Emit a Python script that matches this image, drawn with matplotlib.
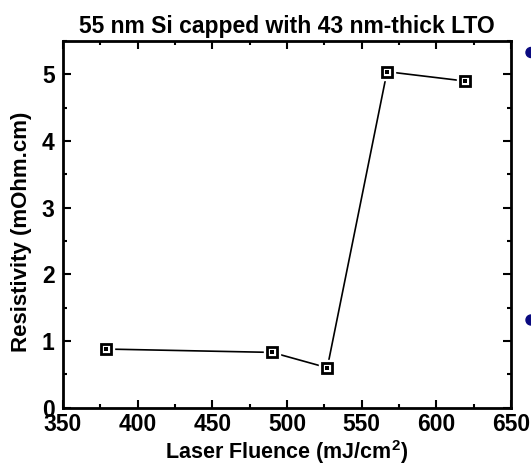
import matplotlib
matplotlib.use("Agg")
import matplotlib.pyplot as plt
from matplotlib.patches import Ellipse
from matplotlib.ticker import MultipleLocator

fluence = [379, 490, 527, 567, 619]
resistivity = [0.88, 0.83, 0.60, 5.04, 4.90]

plt.rcParams['font.family'] = ['Liberation Sans', 'DejaVu Sans']
plt.rcParams['font.weight'] = 'bold'
plt.rcParams['mathtext.fontset'] = 'custom'
plt.rcParams['mathtext.bf'] = 'Liberation Sans:bold'

fig = plt.figure(figsize=(5.31, 4.67), dpi=100)
ax = fig.add_axes([0.1186, 0.1269, 0.8437, 0.7853])

ax.plot(fluence, resistivity, color='black', lw=1.2, zorder=1)
# white halo so the line stops short of the markers
ax.plot(fluence, resistivity, ls='none', marker='s', ms=11, mfc='white', mec='white', zorder=2)
ax.plot(fluence, resistivity, ls='none', marker='s', ms=6.5, mfc='white', mec='black', mew=2, zorder=3)
ax.plot(fluence, resistivity, ls='none', marker='s', ms=3, mfc='black', mec='black', mew=0, zorder=4)

ax.set_xlim(350, 650)
ax.set_ylim(0, 5.5)
ax.xaxis.set_major_locator(MultipleLocator(50))
ax.xaxis.set_minor_locator(MultipleLocator(25))
ax.yaxis.set_major_locator(MultipleLocator(1))
ax.yaxis.set_minor_locator(MultipleLocator(0.5))

ax.tick_params(which='both', direction='in', top=True, right=True, width=1.5, labelsize=16.5)
ax.tick_params(axis='x', pad=4)
ax.tick_params(axis='y', pad=6)
ax.tick_params(which='major', length=6)
ax.tick_params(which='minor', length=3)
for s in ax.spines.values():
    s.set_linewidth(2)

fig.text(286.5 / 531, 1 - 459 / 467, 'Laser Fluence (mJ/cm$^{\\mathbf{2}}$)',
         fontsize=15.5, fontweight='bold', ha='center', va='baseline')
fig.text(22 / 531, 1 - 232 / 467, 'Resistivity (mOhm.cm)', rotation=90,
         fontsize=16, fontweight='bold', ha='center', va='center')
ax.set_title('55 nm Si capped with 43 nm-thick LTO', fontsize=16.5, fontweight='bold', pad=6)

# cut-off bullets at the right edge
for yp in [52.5, 320]:
    fig.add_artist(Ellipse((531 / 531, 1 - yp / 467), 10 / 531, 10 / 467,
                           transform=fig.transFigure, color='#0a0a80'))

fig.savefig('out.png', dpi=100)
